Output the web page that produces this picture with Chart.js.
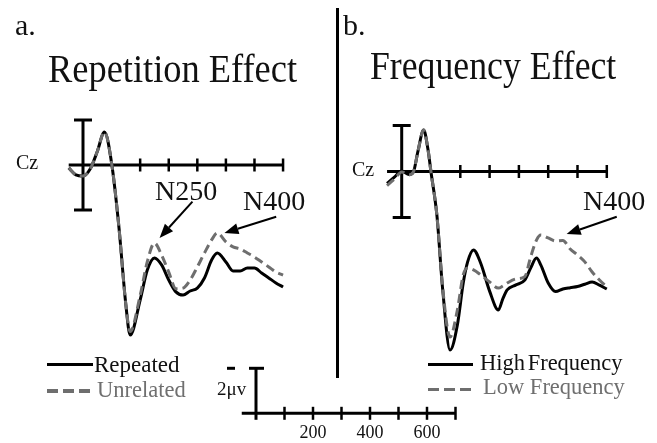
<!DOCTYPE html>
<html><head><meta charset="utf-8">
<script src="https://cdn.jsdelivr.net/npm/chart.js@4.4.1/dist/chart.umd.min.js"></script>
<style>
html,body{margin:0;padding:0;background:#fff;}
#wrap{position:relative;width:657px;height:443px;overflow:hidden;background:#fff;}
#c{position:absolute;left:0;top:0;}
.t{position:absolute;font-family:'Liberation Serif','Times New Roman',serif;line-height:1;white-space:nowrap;color:#111;}
.ln{position:absolute;}
</style></head><body>
<div id="wrap"><canvas id="c" width="657" height="443"></canvas></div>
<script>
// ---------- DATA (amplitudes in µV, negative plotted up; time in ms) ----------
const timesA = [-50,-25,0,25,50,75,100,125,150,165,200,225,250,275,300,325,350,375,400,425,450,470,500,525,550,575,600,625,650,675,700];
const repeatedA = [0.13,0.44,0.49,0.18,-0.6,-1.47,-0.09,2.67,6.22,7.56,6.0,4.67,4.13,4.44,5.11,5.64,5.78,5.6,5.47,5.02,4.22,3.91,4.31,4.71,4.71,4.58,4.58,4.8,5.02,5.24,5.42];
const unrelatedA = [0.13,0.44,0.49,0.18,-0.6,-1.47,-0.09,2.67,6.22,7.4,5.8,4.3,3.47,4.0,4.76,5.5,5.47,5.11,4.53,3.91,3.33,3.02,3.42,3.64,3.73,3.91,4.09,4.31,4.53,4.76,4.89];

const timesB = [-50,-25,0,25,40,55,75,90,100,120,140,165,190,210,225,245,270,300,330,345,360,390,420,440,460,475,500,525,550,575,600,625,650,675,700];
const highFreqB = [0.52,0.24,-0.02,0.13,0.02,-0.85,-1.8,-0.93,0.02,1.89,5.15,7.76,6.67,4.85,3.93,3.41,4.0,5.2,6.02,5.54,5.15,4.93,4.72,4.2,3.76,4.07,4.85,5.22,5.11,5.05,5.0,4.9,4.8,4.94,5.11];
const lowFreqB = [0.61,0.33,0.02,0.15,0.02,-0.85,-1.8,-0.93,0.02,1.89,5.07,7.2,6.02,4.5,4.2,4.28,4.5,4.8,5.07,4.98,4.85,4.67,4.57,3.72,2.98,2.76,2.89,3.02,3.0,3.37,3.63,3.93,4.37,4.72,5.02];

const axisTicksMs = [200,300,400,500,600,700];
const scaleTicksMs = [100,200,300,400,500,600,700];
const scaleLabelsMs = [200,400,600];
const barUV = 2;
const seriesNames = ['Repeated','Unrelated','High Frequency','Low Frequency'];

// ---------- LAYOUT ----------
const W = 657, H = 443;
const frameA = {x0:83, pxPerMs:0.2858, y0:165, pxPerUV:22.5};
const frameB = {x0:401.7, pxPerMs:0.293, y0:171.5, pxPerUV:23};
const frameS = {x0:256, pxPerMs:0.285, y0:413.3, pxPerUV:22.5};
const xr = f => ({type:'linear', axis:'x', display:false, min:-f.x0/f.pxPerMs, max:(W-f.x0)/f.pxPerMs});
const yrDown = f => ({type:'linear', axis:'y', display:false, reverse:true, min:-f.y0/f.pxPerUV, max:(H-f.y0)/f.pxPerUV});
const yrUp = f => ({type:'linear', axis:'y', display:false, min:(f.y0-H)/f.pxPerUV, max:f.y0/f.pxPerUV});

const arrows = [
  {x:'xA', y:'yA', from:[383,1.63], to:[268,3.24]},
  {x:'xA', y:'yA', from:[676,2.3], to:[495,3.02]},
  {x:'xB', y:'yB', from:[734,1.97], to:[563,2.72]}
];

const pts = (ts, vs) => ts.map((t,i) => ({x:t, y:vs[i]}));
const SOLID = '#000', DASH = '#6e6e6e';

function seg(ctx,x1,y1,x2,y2){ctx.beginPath();ctx.moveTo(x1,y1);ctx.lineTo(x2,y2);ctx.stroke();}

const decor = {
  id:'decor',
  beforeDatasetsDraw(chart){
    const ctx = chart.ctx, s = chart.scales;
    ctx.save();
    ctx.strokeStyle = '#000';
    for (const [xi, yi] of [['xA','yA'],['xB','yB']]) {
      const xs = s[xi], ys = s[yi];
      const yz = ys.getPixelForValue(0);
      ctx.lineWidth = 3;
      seg(ctx, xs.getPixelForValue(-50), yz, xs.getPixelForValue(700), yz);
      ctx.lineWidth = 2.5;
      for (const t of axisTicksMs) { const x = xs.getPixelForValue(t); seg(ctx, x, yz-6.5, x, yz+6.5); }
      const xb = xs.getPixelForValue(0), yt = ys.getPixelForValue(-barUV), yb = ys.getPixelForValue(barUV);
      ctx.lineWidth = 3;
      seg(ctx, xb, yt, xb, yb);
      seg(ctx, xb-9, yt, xb+9, yt);
      seg(ctx, xb-9, yb, xb+9, yb);
    }
    // calibration bar
    const xs = s.xS, ys = s.yS;
    const yz = ys.getPixelForValue(0), ytop = ys.getPixelForValue(barUV);
    ctx.lineWidth = 3;
    seg(ctx, xs.getPixelForValue(-50), yz, xs.getPixelForValue(700), yz);
    ctx.lineWidth = 2.5;
    for (const t of scaleTicksMs) { const x = xs.getPixelForValue(t); seg(ctx, x, yz-6.5, x, yz+6.5); }
    const x0 = xs.getPixelForValue(0);
    ctx.lineWidth = 3;
    seg(ctx, x0, ytop, x0, yz+6.5);
    seg(ctx, x0-7, ytop, x0+8, ytop);
    seg(ctx, x0-29, ytop, x0-21, ytop);
    ctx.restore();
  },
  afterDatasetsDraw(chart){
    const ctx = chart.ctx, s = chart.scales;
    ctx.save();
    ctx.strokeStyle = '#000'; ctx.fillStyle = '#000'; ctx.lineWidth = 2;
    for (const a of arrows) {
      const x1 = s[a.x].getPixelForValue(a.from[0]), y1 = s[a.y].getPixelForValue(a.from[1]);
      const x2 = s[a.x].getPixelForValue(a.to[0]), y2 = s[a.y].getPixelForValue(a.to[1]);
      const ang = Math.atan2(y2-y1, x2-x1), L = 14, hw = 5.5;
      const bx = x2 - L*Math.cos(ang), by = y2 - L*Math.sin(ang);
      seg(ctx, x1, y1, bx, by);
      ctx.beginPath();
      ctx.moveTo(x2, y2);
      ctx.lineTo(bx + hw*Math.sin(ang), by - hw*Math.cos(ang));
      ctx.lineTo(bx - hw*Math.sin(ang), by + hw*Math.cos(ang));
      ctx.closePath(); ctx.fill();
    }
    ctx.restore();
  }
};

const chart = new Chart(document.getElementById('c'), {
  type:'line',
  data:{datasets:[
    {label:seriesNames[0], data:pts(timesA, repeatedA), xAxisID:'xA', yAxisID:'yA', borderColor:SOLID, borderWidth:3, order:1},
    {label:seriesNames[1], data:pts(timesA, unrelatedA), xAxisID:'xA', yAxisID:'yA', borderColor:DASH, borderWidth:3, borderDash:[9,5], order:0},
    {label:seriesNames[2], data:pts(timesB, highFreqB), xAxisID:'xB', yAxisID:'yB', borderColor:SOLID, borderWidth:3, order:1},
    {label:seriesNames[3], data:pts(timesB, lowFreqB), xAxisID:'xB', yAxisID:'yB', borderColor:DASH, borderWidth:3, borderDash:[9,5], order:0}
  ]},
  options:{
    responsive:false, animation:false,
    layout:{autoPadding:false, padding:0},
    plugins:{legend:{display:false}, tooltip:{enabled:false}},
    elements:{point:{radius:0}, line:{cubicInterpolationMode:'monotone', borderCapStyle:'butt', borderJoinStyle:'round'}},
    scales:{xA:xr(frameA), yA:yrDown(frameA), xB:xr(frameB), yB:yrDown(frameB), xS:xr(frameS), yS:yrUp(frameS)}
  },
  plugins:[decor]
});

// ---------- TEXT & LEGEND (HTML) ----------
const wrap = document.getElementById('wrap');
function txt(o){
  const d = document.createElement('div');
  d.className = 't';
  d.textContent = o.text;
  d.style.fontSize = o.size + 'px';
  d.style.top = (o.base - 0.8375*o.size) + 'px';
  d.style.left = o.x + 'px';
  if (o.color) d.style.color = o.color;
  if (o.ws != null) d.style.wordSpacing = o.ws + 'px';
  let tr = '';
  if (o.center) tr += 'translateX(-50%) ';
  if (o.sx) { tr += 'scaleX(' + o.sx + ')'; d.style.transformOrigin = 'left top'; }
  if (tr) d.style.transform = tr;
  wrap.appendChild(d);
}
function bar(x, y, w, h, bg){
  const d = document.createElement('div');
  d.className = 'ln';
  Object.assign(d.style, {left:x+'px', top:y+'px', width:w+'px', height:h+'px', background:bg});
  wrap.appendChild(d);
}
const GRAYTXT = '#6f6f6f';
[
  {text:'a.', x:15, base:35, size:30},
  {text:'Repetition Effect', x:48, base:82, size:40, sx:0.91},
  {text:'b.', x:343, base:35, size:30},
  {text:'Frequency Effect', x:370, base:79, size:40, sx:0.893},
  {text:'Cz', x:16, base:169, size:20},
  {text:'Cz', x:352, base:176, size:20},
  {text:'N250', x:155, base:200, size:28},
  {text:'N400', x:243, base:210, size:28},
  {text:'N400', x:583, base:210, size:28},
  {text:seriesNames[0], x:94, base:372.5, size:23},
  {text:seriesNames[1], x:97, base:397.5, size:22.5, color:GRAYTXT},
  {text:seriesNames[2], x:480, base:370.5, size:22.5, ws:-3},
  {text:seriesNames[3], x:483, base:395, size:22.5, color:GRAYTXT},
  {text:'2μv', x:217, base:395, size:19}
].forEach(txt);
for (const t of scaleLabelsMs) txt({text:String(t), x:chart.scales.xS.getPixelForValue(t), base:438, size:18, center:true});

const dashBg = 'repeating-linear-gradient(to right,' + DASH + ' 0 11px, transparent 11px 16px)';
bar(47, 362.5, 46, 3.5, SOLID);
bar(47, 389.3, 43, 3.5, dashBg);
bar(428, 362.5, 45, 3.5, SOLID);
bar(428, 387.5, 43, 3.5, dashBg);
bar(336, 8, 2.5, 370, '#000');
</script>
</body></html>
